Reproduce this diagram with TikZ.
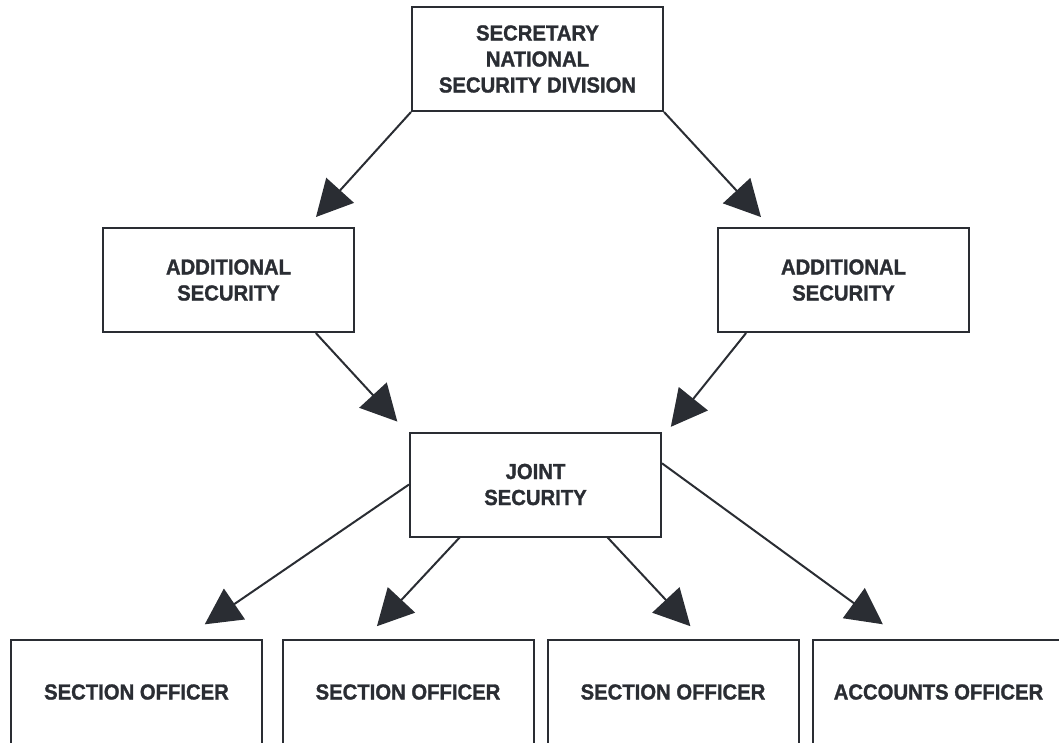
\documentclass[tikz,border=0pt]{standalone}
\usepackage{fontspec}
\setmainfont{Liberation Sans}
\newfontfamily\orgfont[FakeStretch=0.93,FakeBold=1.3]{Liberation Sans}
\usetikzlibrary{arrows.meta,calc}
\definecolor{inkgray}{HTML}{2A2D33}
\tikzset{
  orgbox/.style={draw=inkgray,line width=2pt,minimum width=251pt,minimum height=104pt,
    align=center,text=inkgray,font=\orgfont\fontsize{21.8}{26}\selectfont\bfseries},
  orgarrow/.style={draw=inkgray,line width=2pt,-{Triangle[length=36pt,width=37pt]}}
}
\begin{document}
\begin{tikzpicture}[x=1pt,y=-1pt]
\useasboundingbox (0,0) rectangle (1059,742);
% boxes
\node (sec) [orgbox] at (537.5,59) {SECRETARY\\NATIONAL\\SECURITY DIVISION};
\node (addl) [orgbox] at (228.5,280) {ADDITIONAL\\SECURITY};
\node (addr) [orgbox] at (843.5,280) {ADDITIONAL\\SECURITY};
\node (joint) [orgbox] at (535.5,484.5) {JOINT\\SECURITY};
\node (so1) [orgbox] at (136.5,692) {SECTION OFFICER};
\node (so2) [orgbox] at (408,692) {SECTION OFFICER};
\node (so3) [orgbox] at (673,692) {SECTION OFFICER};
\node (acc) [orgbox] at (938.5,692) {ACCOUNTS OFFICER};
% arrows
\draw [orgarrow,shorten >=13.5pt] (sec.south west) -- ($(addl.north west)!0.81!(addl.north east)$);
\draw [orgarrow,shorten >=13.5pt] (sec.south east) -- ($(addr.north west)!0.21!(addr.north east)$);
\draw [orgarrow,shorten >=13.5pt] ($(addl.south west)!0.845!(addl.south east)$) -- ($(joint.north west)!-0.01!(joint.north east)$);
\draw [orgarrow,shorten >=6pt] ($(addr.south west)!0.115!(addr.south east)$) -- ($(joint.north west)!1.02!(joint.north east)$);
\draw [orgarrow,shorten >=26pt] (joint.west) -- ($(so1.north west)!0.685!(so1.north east)$);
\draw [orgarrow,shorten >=17.5pt] ($(joint.south west)!0.2!(joint.south east)$) -- ($(so2.north west)!0.33!(so2.north east)$);
\draw [orgarrow,shorten >=17.5pt] ($(joint.south west)!0.785!(joint.south east)$) -- ($(so3.north west)!0.616!(so3.north east)$);
\draw [orgarrow,shorten >=25pt] ($(joint.north east)!0.3!(joint.south east)$) -- ($(acc.north west)!0.36!(acc.north east)$);
\end{tikzpicture}
\end{document}
